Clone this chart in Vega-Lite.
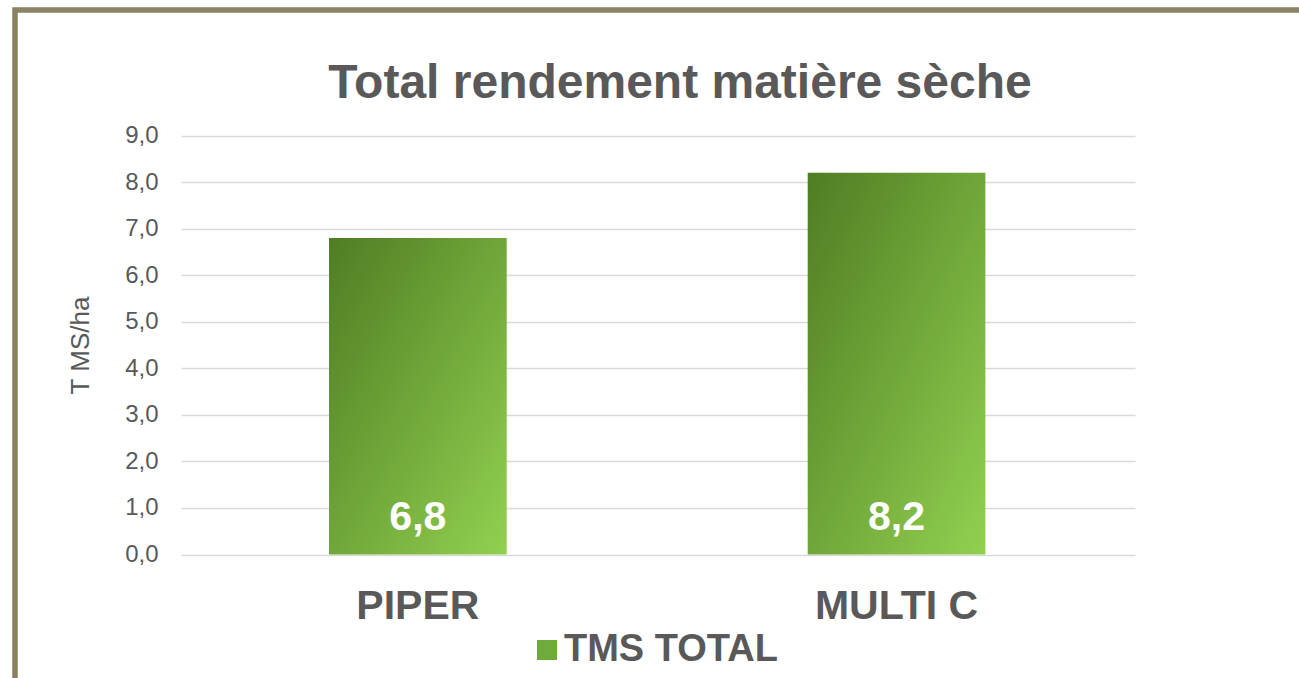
{
  "$schema": "https://vega.github.io/schema/vega-lite/v6.json",
  "width": 1290,
  "height": 674,
  "autosize": {"type": "none"},
  "padding": {"left": 15, "top": 10, "right": -6, "bottom": -6},
  "background": "white",
  "title": {
    "text": "Total rendement matière sèche",
    "fontSize": 48,
    "font": "Liberation Sans",
    "fontWeight": "bold",
    "color": "#595959",
    "anchor": "middle",
    "frame": "group",
    "baseline": "alphabetic",
    "offset": -136,
    "dx": 20
  },
  "data": {
    "values": [
      {"variete": "PIPER", "tms": 6.8, "serie": "TMS TOTAL"},
      {"variete": "MULTI C", "tms": 8.2, "serie": "TMS TOTAL"}
    ]
  },
  "encoding": {
    "x": {
      "field": "variete",
      "type": "nominal",
      "sort": ["PIPER", "MULTI C"],
      "scale": {"range": [0, 1284.4], "paddingInner": 0.6288, "paddingOuter": 0.656},
      "axis": {
        "title": null,
        "orient": "bottom",
        "offset": -66,
        "domain": false,
        "ticks": false,
        "tickSize": 0,
        "labelPadding": 0,
        "labelBaseline": "alphabetic",
        "labelFontSize": 41,
        "labelFontWeight": "bold",
        "labelColor": "#595959",
        "labelFont": "Liberation Sans",
        "labelAngle": 0,
        "grid": false
      }
    }
  },
  "layer": [
    {
      "mark": {
        "type": "bar",
        "color": {
          "gradient": "linear",
          "x1": 0, "y1": 0, "x2": 1, "y2": 1,
          "stops": [
            {"offset": 0, "color": "#4e7d23"},
            {"offset": 1, "color": "#92d050"}
          ]
        }
      },
      "encoding": {
        "y": {
          "field": "tms",
          "type": "quantitative",
          "scale": {"domain": [-2.7816, 11.6957], "nice": false, "zero": false},
          "axis": {
            "title": "T MS/ha",
            "values": [0, 1, 2, 3, 4, 5, 6, 7, 8, 9],
            "format": ".1f",
            "offset": -143,
            "domain": false,
            "ticks": false,
            "tickSize": 0,
            "labelPadding": 0,
            "labelFontSize": 24,
            "labelColor": "#595959",
            "labelFont": "Liberation Sans",
            "grid": true,
            "gridColor": "#d9d9d9",
            "gridWidth": 1.5,
            "gridDash": [0, 166, 954, 3000],
            "titleFontSize": 26,
            "titleFontWeight": "normal",
            "titleColor": "#595959",
            "titleFont": "Liberation Sans",
            "titleX": -77.5,
            "titleY": 335,
            "titleAngle": 270,
            "titleBaseline": "middle",
            "titleAlign": "center"
          }
        },
        "y2": {"datum": 0}
      }
    },
    {
      "mark": {"type": "square", "size": 0, "filled": true, "opacity": 1},
      "encoding": {
        "y": {"field": "tms", "type": "quantitative"},
        "color": {
          "field": "serie",
          "type": "nominal",
          "scale": {"domain": ["TMS TOTAL"], "range": ["#6fab3b"]},
          "legend": {
            "title": null,
            "orient": "none",
            "legendX": 513,
            "legendY": 621,
            "padding": 0,
            "symbolType": "square",
            "symbolSize": 400,
            "symbolOpacity": 1,
            "symbolStrokeWidth": 0,
            "labelFontSize": 38,
            "labelFontWeight": "bold",
            "labelColor": "#595959",
            "labelFont": "Liberation Sans",
            "labelOffset": -2,
            "labelLimit": 500,
            "encode": {
              "symbols": {
                "update": {
                  "fill": {
                    "value": {
                      "gradient": "linear",
                      "x1": 0, "y1": 0, "x2": 1, "y2": 1,
                      "stops": [
                        {"offset": 0, "color": "#4e7d23"},
                        {"offset": 1, "color": "#92d050"}
                      ]
                    }
                  },
                  "opacity": {"value": 1}
                }
              }
            }
          }
        }
      }
    },
    {
      "mark": {
        "type": "text",
        "baseline": "alphabetic",
        "dy": -25,
        "fontSize": 41,
        "fontWeight": "bold",
        "font": "Liberation Sans",
        "color": "white"
      },
      "encoding": {
        "y": {"datum": 0, "type": "quantitative"},
        "text": {"field": "tms", "type": "quantitative", "format": ".1f"}
      }
    }
  ],
  "config": {
    "locale": {
      "number": {"decimal": ",", "thousands": " ", "grouping": [3], "currency": ["", " €"]}
    },
    "view": {"stroke": "#8b8163", "strokeWidth": 5.5}
  }
}
